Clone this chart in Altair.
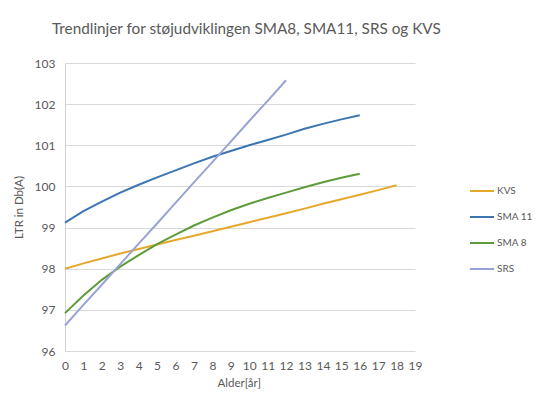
import altair as alt
import pandas as pd

series_names = ["KVS", "SMA 11", "SMA 8", "SRS"]
kvs = [98.0, 98.13, 98.25, 98.37, 98.48, 98.59, 98.70, 98.80, 98.91, 99.02,
       99.13, 99.24, 99.35, 99.46, 99.58, 99.69, 99.80, 99.91, 100.03]
sma11 = [99.12, 99.40, 99.63, 99.85, 100.04, 100.22, 100.39, 100.56, 100.72,
         100.86, 101.0, 101.13, 101.26, 101.40, 101.52, 101.63, 101.73]
sma8 = [96.92, 97.35, 97.73, 98.05, 98.33, 98.60, 98.83, 99.05, 99.24, 99.42,
        99.58, 99.72, 99.85, 99.98, 100.10, 100.21, 100.31]
srs = [96.62, 97.12, 97.61, 98.11, 98.61, 99.10, 99.60, 100.10, 100.59,
       101.09, 101.59, 102.08, 102.58]
colors = ["#E6A82B", "#3B76B3", "#5E9C3B", "#9AA3D6"]

rows = []
for name, vals in zip(series_names, [kvs, sma11, sma8, srs]):
    for i, v in enumerate(vals):
        rows.append({"Alder": i, "LTR": v, "Serie": name})
df = pd.DataFrame(rows)

font = "Lato"
grey = "#595959"

chart = alt.Chart(df).mark_line(strokeWidth=2).encode(
    x=alt.X("Alder:Q", scale=alt.Scale(domain=[0, 19], nice=False),
            axis=alt.Axis(values=list(range(20)), title="Alder[år]", grid=False,
                          domain=False, ticks=False, labelFlush=False,
                          labelPadding=9, titlePadding=6, titleX=152, titleAnchor="start")),
    y=alt.Y("LTR:Q", scale=alt.Scale(domain=[96, 103], nice=False, zero=False),
            axis=alt.Axis(values=list(range(96, 104)), title="LTR in Db(A)",
                          ticks=False, domain=True, domainColor="#D0D0D0",
                          labelPadding=10, titlePadding=10)),
    color=alt.Color("Serie:N", scale=alt.Scale(domain=series_names, range=colors),
                    legend=alt.Legend(title=None, orient="none", legendX=404, legendY=115,
                                      symbolType="stroke", symbolSize=576,
                                      symbolStrokeWidth=2, rowPadding=8,
                                      labelFontSize=10, labelColor=grey, labelFont=font,
                                      padding=0, labelOffset=2, labelLimit=200)),
).properties(
    width=350, height=288,
    autosize=alt.AutoSizeParams(type="none"),
    padding={"left": 57, "top": 55, "right": 119, "bottom": 39},
    title=alt.TitleParams("Trendlinjer for støjudviklingen SMA8, SMA11, SRS og KVS",
                          anchor="start", frame="group", dx=-13, offset=20, fontSize=15.3,
                          fontWeight="normal", color=grey, font=font),
).configure_view(stroke=None).configure_axis(
    gridColor="#D9D9D9", labelFont=font, titleFont=font, labelColor=grey,
    titleColor=grey, labelFontSize=12, titleFontSize=11.5, titleFontWeight="normal"
)

chart.save("out.html", embed_options={"renderer": "svg", "actions": False})
